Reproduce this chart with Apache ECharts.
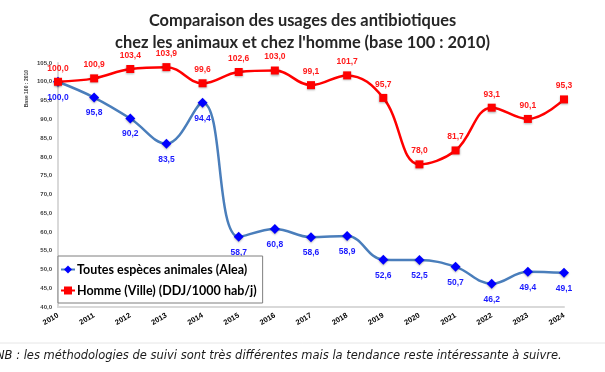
<!DOCTYPE html>
<html>
<head>
<meta charset="utf-8">
<script src="https://cdn.jsdelivr.net/npm/echarts@6/dist/echarts.min.js"></script>
<style>
  html, body { margin: 0; padding: 0; background: #fff; }
  #chart { width: 605px; height: 372px; }
</style>
</head>
<body>
<div id="chart"></div>
<script>
var years = ['2010', '2011', '2012', '2013', '2014', '2015', '2016', '2017', '2018', '2019', '2020', '2021', '2022', '2023', '2024'];
var animaux = [100.0, 95.8, 90.2, 83.5, 94.4, 58.7, 60.8, 58.6, 58.9, 52.6, 52.5, 50.7, 46.2, 49.4, 49.1];
var homme = [100.0, 100.9, 103.4, 103.9, 99.6, 102.6, 103.0, 99.1, 101.7, 95.7, 78.0, 81.7, 93.1, 90.1, 95.3];

function fr(v) {
  return v.toFixed(1).replace('.', ',');
}

var chart = echarts.init(document.getElementById('chart'));

var option = {
  animation: false,
  title: {
    left: 'center',
    top: 5,
    text: 'Comparaison des usages des antibiotiques\nchez les animaux et chez l\'homme (base 100 : 2010)',
    textStyle: {
      fontFamily: 'Lato',
      fontSize: 16.4,
      fontWeight: 'bold',
      color: '#262626',
      lineHeight: 22
    }
  },
  grid: { left: 58, right: 41, top: 63, bottom: 65 },
  legend: {
    left: 58,
    top: 256,
    orient: 'vertical',
    backgroundColor: '#fff',
    borderColor: '#7f7f7f',
    borderWidth: 1,
    padding: [7, 6, 6, 2],
    itemGap: 8,
    itemWidth: 14,
    itemHeight: 10,
    textStyle: { fontFamily: 'Lato', fontSize: 12.5, fontWeight: 'bold', color: '#000', padding: [0, 0, 0, -3] },
    data: ['Toutes espèces animales (Alea)', 'Homme (Ville) (DDJ/1000 hab/j)']
  },
  xAxis: {
    type: 'category',
    data: years,
    boundaryGap: false,
    axisLine: { lineStyle: { color: '#d9d9d9', width: 2 } },
    axisTick: { show: false },
    axisLabel: {
      rotate: 30,
      fontSize: 7.5,
      fontWeight: 'bold',
      color: '#000',
      margin: 8
    }
  },
  yAxis: {
    type: 'value',
    min: 40,
    max: 105,
    interval: 5,
    splitLine: { show: false },
    axisLine: { show: true, lineStyle: { color: '#d9d9d9', width: 2 } },
    axisTick: { show: false },
    axisLabel: {
      fontSize: 6,
      fontWeight: 'bold',
      color: '#404040',
      margin: 6,
      formatter: function (v) { return fr(v); }
    }
  },
  graphic: [
    {
      type: 'text',
      left: 24,
      top: 70,
      rotation: Math.PI / 2,
      style: { text: 'Base 100 : 2010', fontSize: 5, fontWeight: 'bold', fill: '#404040' }
    },
    {
      type: 'line',
      shape: { x1: 0, y1: 343, x2: 605, y2: 343 },
      style: { stroke: '#e6e6e6', lineWidth: 1 }
    },
    {
      type: 'text',
      left: -4,
      top: 350,
      style: {
        text: 'NB : les méthodologies de suivi sont très différentes mais la tendance reste intéressante à suivre.',
        font: 'italic 11.5px "DejaVu Sans"',
        fill: '#1a1a1a'
      }
    }
  ],
  series: [
    {
      name: 'Toutes espèces animales (Alea)',
      type: 'line',
      data: animaux,
      smooth: 0.4,
      symbol: 'diamond',
      symbolSize: 10,
      z: 3,
      lineStyle: { color: '#4a7ebb', width: 2.5 },
      itemStyle: { color: '#0000ff', shadowBlur: 2, shadowColor: 'rgba(0,0,0,0.3)', shadowOffsetY: 1 },
      label: {
        show: true,
        position: 'bottom',
        distance: 6,
        fontSize: 8.5,
        fontWeight: 'bold',
        color: '#1a1aff',
        formatter: function (p) { return fr(p.value); }
      }
    },
    {
      name: 'Homme (Ville) (DDJ/1000 hab/j)',
      type: 'line',
      data: homme,
      smooth: 0.4,
      symbol: 'rect',
      symbolSize: 8,
      z: 4,
      lineStyle: { color: '#ff0000', width: 2.5 },
      itemStyle: { color: '#ff0000', shadowBlur: 2, shadowColor: 'rgba(0,0,0,0.3)', shadowOffsetY: 1 },
      label: {
        show: true,
        position: 'top',
        distance: 5,
        fontSize: 8.5,
        fontWeight: 'bold',
        color: '#ff1a1a',
        formatter: function (p) { return fr(p.value); }
      }
    }
  ]
};

chart.setOption(option);
</script>
</body>
</html>
